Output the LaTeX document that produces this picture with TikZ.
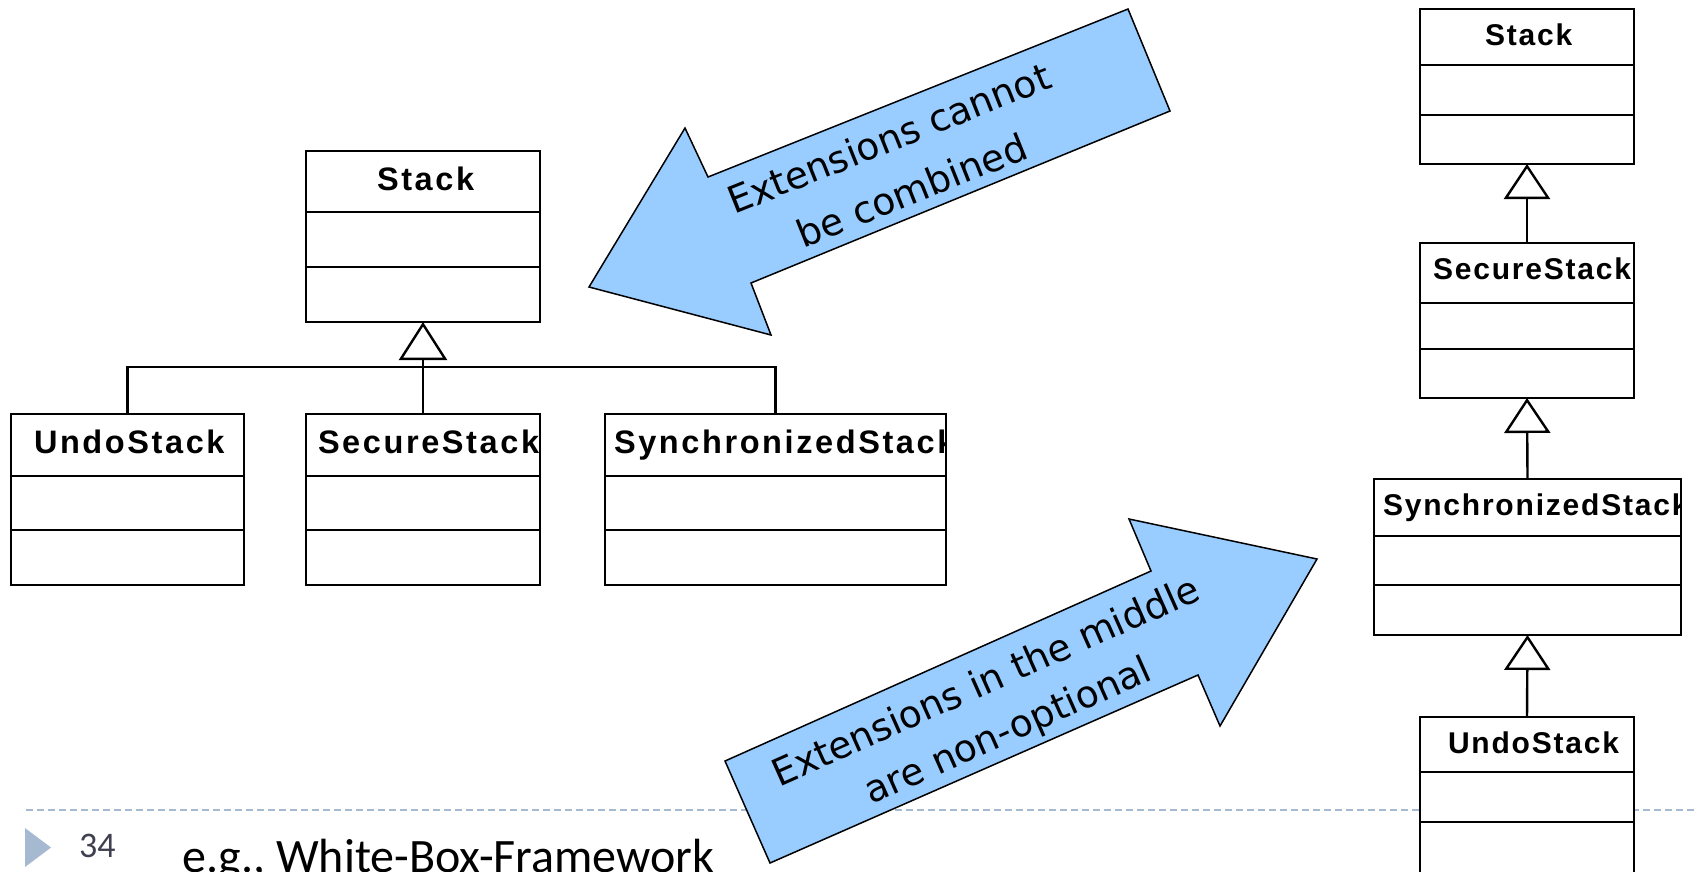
\documentclass[tikz,border=0pt]{standalone}
\usepackage{fontspec}
\usetikzlibrary{arrows.meta}

\newfontfamily\umlfontL[LetterSpace=8]{Liberation Sans}
\newfontfamily\umlfontR[LetterSpace=6]{Liberation Sans}
\newfontfamily\notefont{DejaVu Sans}
\newfontfamily\slidefont{Carlito}

\definecolor{arrowblue}{RGB}{153,204,255}
\definecolor{footerblue}{RGB}{165,185,208}
\definecolor{pagegray}{RGB}{64,64,80}

\tikzset{
  classbox/.style={rectangle, draw=black, line width=2.6pt, fill=white, inner sep=0pt, outer sep=0pt},
  classrule/.style={draw=black, line width=2.6pt},
  lname/.style={inner sep=0pt, outer sep=0pt, font=\umlfontL\bfseries\fontsize{32.5}{36}\selectfont},
  rname/.style={inner sep=0pt, outer sep=0pt, font=\umlfontR\bfseries\fontsize{30}{34}\selectfont},
  treeline/.style={draw=black, line width=2.4pt},
  inheritL/.style={draw=black, line width=2.4pt, -{Triangle[fill=white, length=38pt, width=48pt]}},
  inheritR/.style={draw=black, line width=2.4pt, -{Triangle[fill=white, length=35pt, width=46pt]}},
  blockarrow/.style={fill=arrowblue, draw=black, line width=1.5pt, line join=miter},
  notetext/.style={inner sep=0pt, outer sep=0pt, font=\notefont\fontsize{37.5}{45}\selectfont},
  footerrule/.style={draw=footerblue, line width=2pt, dash pattern=on 7pt off 4pt},
  pagenum/.style={inner sep=0pt, text=pagegray, font=\slidefont\fontsize{36}{40}\selectfont},
  slidetitle/.style={inner sep=0pt, text=black, font=\slidefont\fontsize{48}{54}\selectfont},
}

% UML class with three compartments:
% #1 name, #2 top-left corner, #3 width, #4 height, #5/#6 rule offsets from top,
% #7 label style, #8 label base-west offset from top-left, #9 class name
\newcommand\umlclass[9]{%
  \node[classbox, anchor=north west, minimum width=#3pt, minimum height=#4pt] (#1) at (#2) {};
  \draw[classrule] ([shift={(0,#5)}]#1.north west) -- ([shift={(0,#5)}]#1.north east);
  \draw[classrule] ([shift={(0,#6)}]#1.north west) -- ([shift={(0,#6)}]#1.north east);
  \begin{scope}
    \clip (#1.north west) rectangle (#1.south east);
    \node[#7, anchor=base west] (#1-label) at ([shift={(#8)}]#1.north west) {#9};
  \end{scope}
}

\begin{document}
\begin{tikzpicture}[x=1pt, y=-1pt]
  \useasboundingbox (0,0) rectangle (1696,871);
  \clip (0,0) rectangle (1696,871);
  \fill[white] (0,0) rectangle (1696,871);

  % slide footer
  \coordinate (rule-start) at (26,810);
  \coordinate (rule-end) at (1696,810);
  \draw[footerrule] (rule-start) -- (rule-end);
  \fill[footerblue] (25,828) -- (25,867) -- (51,847.5) -- cycle;
  \node[pagenum, anchor=base west] (pageno) at (79,857) {34};
  \node[slidetitle, anchor=base west] (title) at (182,872) {e.g., White-Box-Framework};

  % left: one base class, three independent subclasses
  \umlclass{L-stack}{306,151}{234}{171}{61}{116}{lname}{71,39}{Stack}
  \umlclass{L-undo}{11,414}{233}{171}{62}{116}{lname}{23,39}{UndoStack}
  \umlclass{L-sec}{306,414}{234}{171}{62}{116}{lname}{12,39}{SecureStack}
  \umlclass{L-sync}{605,414}{341}{171}{62}{116}{lname}{9,39}{SynchronizedStack}

  \coordinate (L-bar) at (423,367);
  \draw[treeline] (L-undo.north) |- (L-bar) -| (L-sync.north);
  \draw[inheritL] (L-sec.north) -- (L-stack.south);

  % right: a single inheritance chain
  \umlclass{R-stack}{1420,9}{214}{155}{56}{106}{rname}{65,36}{Stack}
  \umlclass{R-sec}{1420,243}{214}{155}{60}{106}{rname}{13,36}{SecureStack}
  \umlclass{R-sync}{1374,479}{307}{156}{57}{106}{rname}{9,36}{SynchronizedStack}
  \umlclass{R-undo}{1420,717}{214}{157}{55}{105}{rname}{28,36}{UndoStack}

  \draw[inheritR] (R-sec.north) -- (R-stack.south);
  \draw[inheritR] (R-sync.north) -- (R-sec.south);
  \draw[inheritR] (R-undo.north) -- (R-sync.south);

  % block arrows with remarks
  \draw[blockarrow] (1128,9) -- (1170,111) -- (751,283) -- (771,335) -- (589,287)
    -- (685,128) -- (708,177) -- cycle;
  \node[notetext, rotate=21.8, anchor=base] (note-a1) at (894,151) {Extensions cannot};
  \node[notetext, rotate=21.8, anchor=base] (note-a2) at (917,203) {be combined};

  \draw[blockarrow] (725,761) -- (1151,571) -- (1129,519) -- (1317,559) -- (1220,726)
    -- (1198,675) -- (770,863) -- cycle;
  \node[notetext, rotate=24, anchor=base] (note-b1) at (991,693) {Extensions in the middle};
  \node[notetext, rotate=24, anchor=base] (note-b2) at (1013,742) {are non-optional};
\end{tikzpicture}
\end{document}
